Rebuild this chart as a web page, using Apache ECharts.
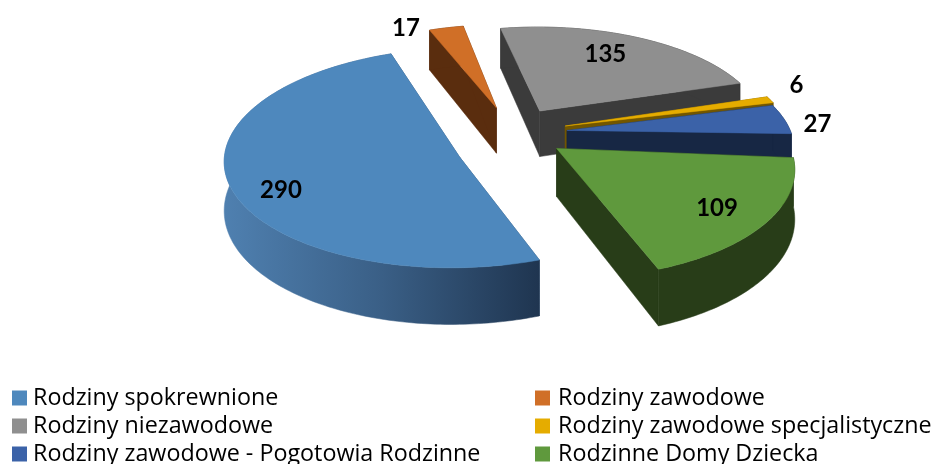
<!DOCTYPE html>
<html>
<head>
    <meta charset="utf-8">
    <title>ECharts</title>
    <script src="https://cdn.jsdelivr.net/npm/echarts@6/dist/echarts.min.js"></script>
    <style>html, body { margin: 0; background: #fff; }</style>
</head>
<body>
<div id="main" style="height: 464px; width: 934px;"></div>
<script type="text/javascript">
    // chart data
    var sliceNames = ['Rodziny spokrewnione', 'Rodziny zawodowe', 'Rodziny niezawodowe',
        'Rodziny zawodowe specjalistyczne', 'Rodziny zawodowe - Pogotowia Rodzinne', 'Rodzinne Domy Dziecka'];
    var sliceValues = [290, 17, 135, 6, 27, 109];

    // styles
    var topColors = ['#4e88bd', '#d06f27', '#8f8f8f', '#e5ac00', '#3b62a8', '#5f993d'];
    var sideColors = ['#2f5072', '#5a2d0e', '#3b3b3b', '#725600', '#172744', '#283d18'];
    var drawOrder = [5, 0, 1, 2, 3, 4]; // z per slice, big blue one goes on top
    var labelRadius = [0.75, 1, 0.75, 1, 1, 0.75];
    var labelShift = [[-9, 24], [-50, 1], [-15, -1], [23, -18], [28, 0], [10, 5]];
    // the reference has perspective we don't model, so the edges are trimmed a little (degrees)
    var startTrim = [-0.7, -3, -2.5, -2, -3, 0];
    var endTrim = [-3, -3, -2, -2, -3, -2];
    var sliceScale = [1.015, 1, 1, 1, 0.99, 1.01];
    var apexShift = [[0, 0.155], [-0.018, 0], [-0.008, 0], [0, 0], [0, 0], [0, 0]];

    // fake 3d pie projection
    var cx = 513, cy = 132, radius = 226, flat = 103, persp = 0.155;
    var explodeX = 0.24, explodeY = 0.25, depth = 47, firstAngle = 162;

    var total = sliceValues.reduce(function(a, b) { return a + b; }, 0);

    function project(x, y, z) {
        var s = 1 / (1 - persp * y);
        return [cx + radius * x * s, cy + flat * y * s + depth * z * s];
    }
    function dir(deg) {
        var a = deg * Math.PI / 180;
        return [Math.sin(a), -Math.cos(a)];
    }

    var startAngles = [];
    (function() {
        var a = firstAngle;
        for (var i = 0; i < sliceValues.length; i++) {
            startAngles.push(a);
            a += sliceValues[i] / total * 360;
        }
    })();

    function renderSlice(index) {
        return function(params, api) {
            var value = api.value(0);
            var sweep = value / total * 360;
            var a0 = startAngles[index];
            var mid = dir(a0 + sweep / 2);
            var ox = mid[0] * explodeX, oy = mid[1] * explodeY;
            var from = a0 + startTrim[index];
            var to = a0 + sweep + endTrim[index];
            var r = sliceScale[index];
            var top = [], bottom = [];
            var steps = Math.max(2, Math.ceil(to - from));
            for (var i = 0; i <= steps; i++) {
                var d = dir(from + (to - from) * i / steps);
                top.push(project(ox + d[0] * r, oy + d[1] * r, 0));
                bottom.push(project(ox + d[0] * r, oy + d[1] * r, 1));
            }
            var ax = ox + apexShift[index][0], ay = oy + apexShift[index][1];
            var apexTop = project(ax, ay, 0), apexBottom = project(ax, ay, 1);
            var side = sideColors[index];
            var wall = side;
            if (index === 0) {
                wall = new echarts.graphic.LinearGradient(0, 0, 1, 0, [
                    { offset: 0, color: '#4f80b0' },
                    { offset: 0.5, color: '#3a5f86' },
                    { offset: 1, color: '#1f3550' }
                ]);
            }
            function poly(points, fill) {
                return { type: 'polygon', shape: { points: points }, style: { fill: fill, stroke: fill, lineWidth: 0.5 } };
            }
            var lp = project(ox + mid[0] * labelRadius[index], oy + mid[1] * labelRadius[index], 0);
            return {
                type: 'group',
                children: [
                    poly([apexTop, top[0], bottom[0], apexBottom], side),
                    poly([apexTop, top[steps], bottom[steps], apexBottom], side),
                    poly(top.concat(bottom.slice().reverse()), wall),
                    poly([apexTop].concat(top), topColors[index]),
                    {
                        type: 'text',
                        style: {
                            text: String(value),
                            x: lp[0] + labelShift[index][0],
                            y: lp[1] + labelShift[index][1],
                            fill: '#000',
                            font: 'bold 24px Lato',
                            textAlign: 'center',
                            textVerticalAlign: 'middle'
                        }
                    }
                ]
            };
        };
    }

    var seriesdata = sliceNames.map(function(name, i) {
        return {
            name: name,
            type: 'custom',
            coordinateSystem: 'none',
            z: 2 + drawOrder[i],
            silent: true,
            animation: false,
            itemStyle: { color: topColors[i] },
            data: [[sliceValues[i]]],
            renderItem: renderSlice(i)
        };
    });

    function legendAt(left, names, gap) {
        return {
            orient: 'vertical',
            left: left,
            top: 386.5,
            height: 120,
            padding: 0,
            itemWidth: 15,
            itemHeight: 15,
            itemGap: 5,
            icon: 'rect',
            selectedMode: false,
            textStyle: {
                fontFamily: 'Open Sans',
                fontSize: 23.3,
                lineHeight: 15,
                color: '#000',
                padding: [0, 0, 0, gap]
            },
            data: names
        };
    }

    var myChart = echarts.init(document.getElementById('main'));
    var option = {
        animation: false,
        legend: [
            legendAt(12, [sliceNames[0], sliceNames[2], sliceNames[4]], 1),
            legendAt(535, [sliceNames[1], sliceNames[3], sliceNames[5]], 3)
        ],
        series: seriesdata
    };
    myChart.setOption(option);
</script>
</body>
</html>
